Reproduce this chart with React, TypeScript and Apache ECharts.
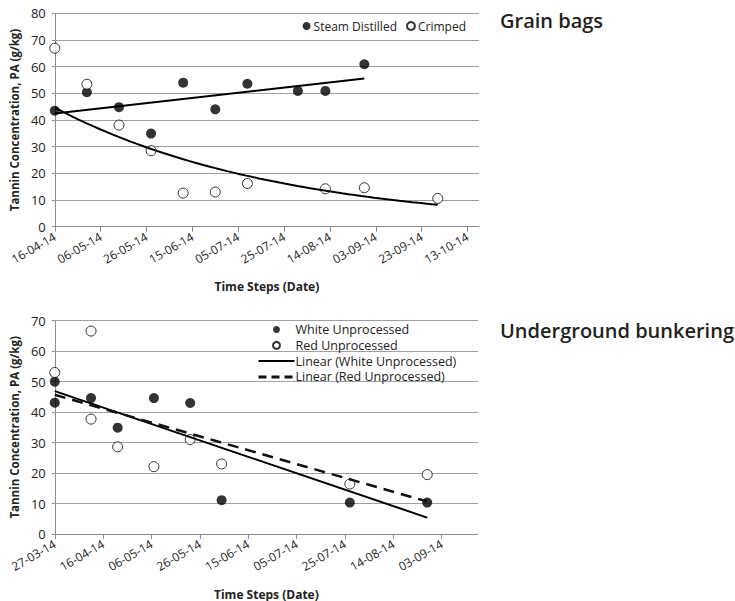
import React, { useEffect, useRef } from "react";
import * as echarts from "echarts";

// ---------- data ----------
const grainStart = "2014-04-16";
const grainTickLabels = ["16-04-14", "06-05-14", "26-05-14", "15-06-14", "05-07-14", "25-07-14", "14-08-14", "03-09-14", "23-09-14", "13-10-14"];
const steamDates = ["2014-04-16", "2014-04-30", "2014-05-14", "2014-05-28", "2014-06-11", "2014-06-25", "2014-07-09", "2014-07-31", "2014-08-12", "2014-08-29"];
const steamValues = [43.5, 50.4, 44.8, 34.9, 54.0, 44.0, 53.6, 50.9, 50.9, 60.9];
const crimpedDates = ["2014-04-16", "2014-04-30", "2014-05-14", "2014-05-28", "2014-06-11", "2014-06-25", "2014-07-09", "2014-08-12", "2014-08-29", "2014-09-30"];
const crimpedValues = [66.9, 53.4, 38.1, 28.5, 12.6, 13.0, 16.2, 14.2, 14.6, 10.6];

const bunkerStart = "2014-03-27";
const bunkerTickLabels = ["27-03-14", "16-04-14", "06-05-14", "26-05-14", "15-06-14", "05-07-14", "25-07-14", "14-08-14", "03-09-14"];
const whiteDates = ["2014-03-27", "2014-03-27", "2014-04-11", "2014-04-22", "2014-05-07", "2014-05-22", "2014-06-04", "2014-07-27", "2014-08-28"];
const whiteValues = [50.0, 43.1, 44.6, 34.9, 44.6, 43.0, 11.1, 10.3, 10.3];
const redDates = ["2014-03-27", "2014-04-11", "2014-04-11", "2014-04-22", "2014-05-07", "2014-05-22", "2014-06-04", "2014-07-27", "2014-08-28"];
const redValues = [53.0, 66.6, 37.7, 28.6, 22.1, 31.0, 23.0, 16.4, 19.5];

// ---------- helpers ----------
const DAY = 86400000;
const toDays = (base: string, dates: string[]) => dates.map((d) => (Date.parse(d) - Date.parse(base)) / DAY);
const pairs = (xs: number[], ys: number[]) => xs.map((x, i) => [x, ys[i]]);

function linFit(xs: number[], ys: number[]) {
  const n = xs.length;
  const mx = xs.reduce((a, b) => a + b, 0) / n;
  const my = ys.reduce((a, b) => a + b, 0) / n;
  let sxy = 0, sxx = 0;
  for (let i = 0; i < n; i++) {
    sxy += (xs[i] - mx) * (ys[i] - my);
    sxx += (xs[i] - mx) * (xs[i] - mx);
  }
  const b = sxy / sxx;
  return { a: my - b * mx, b };
}

const FONT = "'Open Sans', 'DejaVu Sans', sans-serif";
const GRID_COLOR = "#a0a0a0";
const AXIS_COLOR = "#8c8c8c";
const TEXT_COLOR = "#222";

export default function App() {
  const ref = useRef<HTMLDivElement>(null);

  useEffect(() => {
    if (!ref.current) return;
    const chart = echarts.init(ref.current, undefined, { renderer: "svg" });

    const steamX = toDays(grainStart, steamDates);
    const crimpedX = toDays(grainStart, crimpedDates);
    const whiteX = toDays(bunkerStart, whiteDates);
    const redX = toDays(bunkerStart, redDates);

    // trendlines (least squares fits of the data, like the spreadsheet's)
    const sFit = linFit(steamX, steamValues);
    const sMin = Math.min(...steamX), sMax = Math.max(...steamX);
    const steamTrend = [[sMin, sFit.a + sFit.b * sMin], [sMax, sFit.a + sFit.b * sMax]];

    const cFit = linFit(crimpedX, crimpedValues.map((v) => Math.log(v)));
    const cMin = Math.min(...crimpedX), cMax = Math.max(...crimpedX);
    const crimpedTrend: number[][] = [];
    const steps = 60;
    for (let i = 0; i <= steps; i++) {
      const x = cMin + ((cMax - cMin) * i) / steps;
      crimpedTrend.push([x, Math.exp(cFit.a + cFit.b * x)]);
    }

    const wFit = linFit(whiteX, whiteValues);
    const wMin = Math.min(...whiteX), wMax = Math.max(...whiteX);
    const whiteTrend = [[wMin, wFit.a + wFit.b * wMin], [wMax, wFit.a + wFit.b * wMax]];

    const rFit = linFit(redX, redValues);
    const rMin = Math.min(...redX), rMax = Math.max(...redX);
    const redTrend = [[rMin, rFit.a + rFit.b * rMin], [rMax, rFit.a + rFit.b * rMax]];

    const grainTicks = grainTickLabels.map((_, i) => i * 20);
    const bunkerTicks = bunkerTickLabels.map((_, i) => i * 20);

    const xAxisCommon = (ticks: number[], labels: string[], max: number, gridIndex: number) => ({
      type: "value",
      gridIndex,
      min: 0,
      max,
      interval: 20,
      name: "Time Steps (Date)",
      nameLocation: "middle",
      nameGap: 54,
      nameTextStyle: { fontFamily: FONT, fontSize: 12, fontWeight: "bold", color: TEXT_COLOR },
      axisLine: { show: true, lineStyle: { color: AXIS_COLOR, width: 1 } },
      axisTick: { show: true, length: 5, customValues: ticks, lineStyle: { color: AXIS_COLOR } },
      axisLabel: {
        customValues: ticks,
        rotate: 30,
        margin: 9,
        fontFamily: FONT,
        fontSize: 12,
        color: TEXT_COLOR,
        formatter: (v: number) => {
          const idx = Math.round(v / 20);
          return Math.abs(v - idx * 20) < 1e-6 && labels[idx] ? labels[idx] : "";
        },
      },
      splitLine: { show: false },
    });

    const yAxisCommon = (max: number, gridIndex: number) => ({
      type: "value",
      gridIndex,
      min: 0,
      max,
      interval: 10,
      name: "Tannin Concentration, PA (g/kg)",
      nameLocation: "middle",
      nameGap: 31,
      nameTextStyle: { fontFamily: FONT, fontSize: 11.5, fontWeight: "bold", color: TEXT_COLOR },
      axisLine: { show: true, lineStyle: { color: AXIS_COLOR, width: 1 } },
      axisTick: { show: true, length: 3, lineStyle: { color: AXIS_COLOR } },
      axisLabel: { margin: 9, fontFamily: FONT, fontSize: 13, color: TEXT_COLOR },
      splitLine: { show: true, lineStyle: { color: GRID_COLOR, width: 1 } },
    });

    const filled = { color: "#000" };
    const open = { color: "#fff", borderColor: "#000", borderWidth: 1 };
    const trendLine = (name: string, data: number[][], idx: number, dashed = false) => ({
      name,
      type: "line",
      xAxisIndex: idx,
      yAxisIndex: idx,
      data,
      symbol: "none",
      showSymbol: false,
      silent: true,
      z: 5,
      itemStyle: { color: "#000" },
      lineStyle: dashed ? { color: "#111", width: 2.5, type: [11, 7] } : { color: "#000", width: 2 },
    });
    const noSymbol = { color: "rgba(0,0,0,0)", borderColor: "rgba(0,0,0,0)", borderWidth: 0 };

    const option: any = {
      animation: false,
      backgroundColor: "#fff",
      textStyle: { fontFamily: FONT },
      title: [
        { text: "Grain bags", left: 500, top: 10, padding: 0, textStyle: { fontFamily: FONT, fontSize: 20, fontWeight: 600, color: "#231f20" } },
        { text: "Underground bunkering", left: 500, top: 320, padding: 0, textStyle: { fontFamily: FONT, fontSize: 20, fontWeight: 600, color: "#231f20" } },
      ],
      legend: [
        {
          data: ["Steam Distilled", "Crimped"],
          orient: "horizontal",
          right: 269,
          top: 20,
          padding: 0,
          itemWidth: 8,
          itemHeight: 8,
          itemGap: 9,
          selectedMode: false,
          textStyle: { fontFamily: FONT, fontSize: 12, color: TEXT_COLOR, padding: [0, 0, 0, -2] },
        },
        {
          data: [
            "White Unprocessed",
            "Red Unprocessed",
            { name: "Linear (White Unprocessed)", itemStyle: noSymbol },
            { name: "Linear (Red Unprocessed)", itemStyle: noSymbol, lineStyle: { type: [8, 5], width: 3 } },
          ],
          orient: "vertical",
          left: 257,
          top: 323,
          padding: 0,
          itemWidth: 36,
          itemHeight: 7,
          itemGap: 2.8,
          selectedMode: false,
          textStyle: { fontFamily: FONT, fontSize: 12.5, color: TEXT_COLOR, padding: [0, 0, 0, -4] },
        },
      ],
      grid: [
        { left: 53.5, top: 13.3, width: 425.5, height: 213.4 },
        { left: 53.5, top: 320.7, width: 424.5, height: 213.6 },
      ],
      xAxis: [xAxisCommon(grainTicks, grainTickLabels, 185, 0), xAxisCommon(bunkerTicks, bunkerTickLabels, 175, 1)],
      yAxis: [yAxisCommon(80, 0), yAxisCommon(70, 1)],
      series: [
        { name: "Steam Distilled", type: "scatter", xAxisIndex: 0, yAxisIndex: 0, symbolSize: 10, itemStyle: filled, data: pairs(steamX, steamValues), z: 3 },
        { name: "Crimped", type: "scatter", xAxisIndex: 0, yAxisIndex: 0, symbolSize: 10, itemStyle: open, data: pairs(crimpedX, crimpedValues), z: 3 },
        trendLine("Steam Distilled trend", steamTrend, 0),
        trendLine("Crimped trend", crimpedTrend, 0),
        { name: "White Unprocessed", type: "scatter", xAxisIndex: 1, yAxisIndex: 1, symbolSize: 10, itemStyle: filled, data: pairs(whiteX, whiteValues), z: 3 },
        { name: "Red Unprocessed", type: "scatter", xAxisIndex: 1, yAxisIndex: 1, symbolSize: 10, itemStyle: open, data: pairs(redX, redValues), z: 3 },
        trendLine("Linear (White Unprocessed)", whiteTrend, 1),
        trendLine("Linear (Red Unprocessed)", redTrend, 1, true),
      ],
    };

    chart.setOption(option);
    return () => chart.dispose();
  }, []);

  return <div ref={ref} style={{ position: "absolute", left: 0, top: 0, width: 735, height: 601 }} />;
}
